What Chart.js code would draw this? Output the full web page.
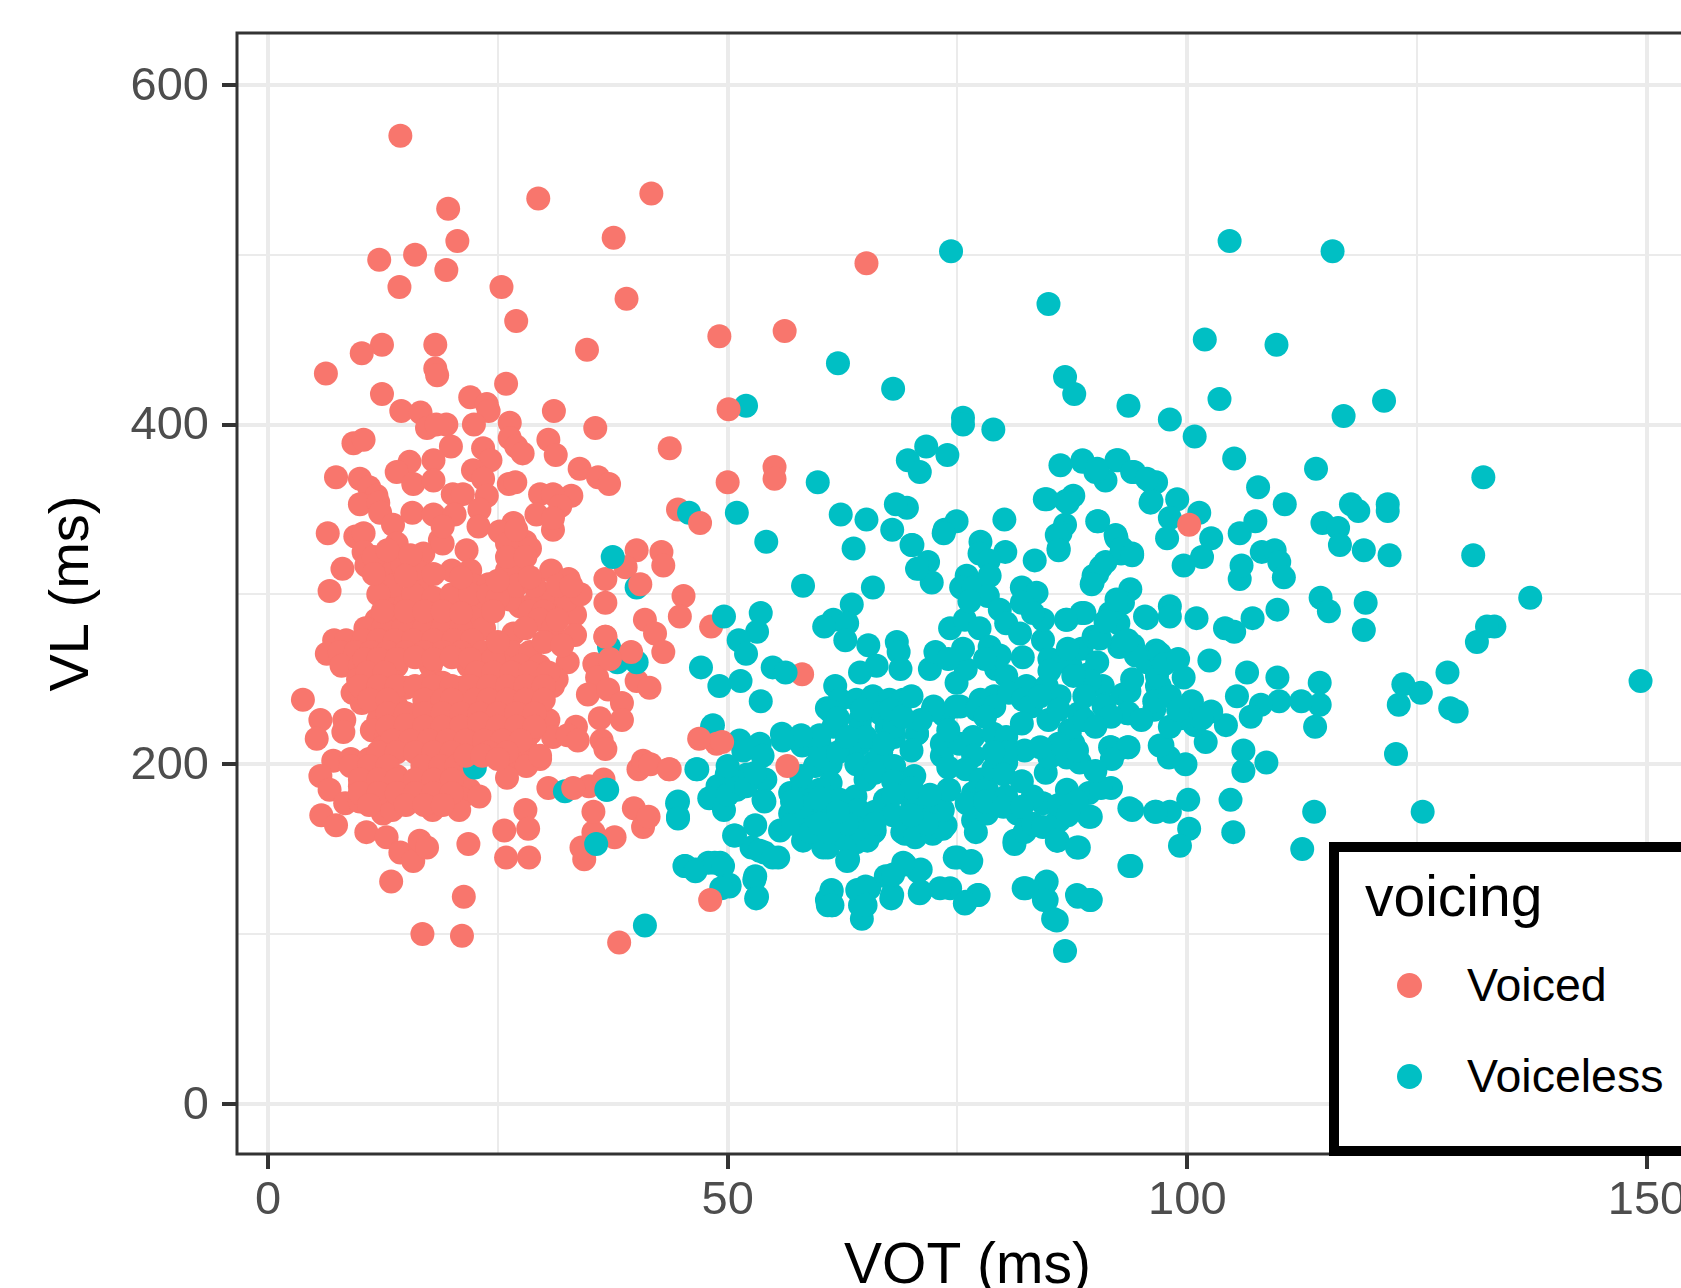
<!DOCTYPE html>
<html>
<head>
<meta charset="utf-8">
<title>VOT and VL by voicing</title>
<script src="https://cdn.jsdelivr.net/npm/chart.js@4"></script>
<style>
html, body { margin: 0; padding: 0; background: #fff; width: 1681px; height: 1288px; overflow: hidden; font-family: "Liberation Sans", sans-serif; }
#wrap { position: relative; width: 1681px; height: 1288px; overflow: hidden; }
#legend { position: absolute; left: 1329px; top: 842px; width: 500px; height: 314px; box-sizing: border-box; border: 10px solid #000; background: #fff; }
#legend .title { position: absolute; left: 26px; top: 12px; font-size: 57px; line-height: 64px; color: #000; }
#legend .item { position: absolute; left: 0; height: 60px; width: 480px; font-size: 46.5px; line-height: 60px; color: #000; }
#legend .dot { position: absolute; left: 58px; top: 18px; width: 25px; height: 25px; border-radius: 50%; }
#legend .label { position: absolute; left: 128px; top: 0; }
</style>
</head>
<body>
<div id="wrap">
<canvas id="voiceChart" width="1710" height="1288"></canvas>
<div id="legend"></div>
</div>
<script>
const legendTitle = 'voicing';
const seriesNames = ['Voiced', 'Voiceless'];
const seriesColors = ['#F8766D', '#00BFC4'];
const xTicks = [0, 50, 100, 150];
const yTicks = [0, 200, 400, 600];

// [VOT, VL]
const voiced = [
[14.4,570],[19.6,527],[29.4,533],[41.7,536],[20.6,508],[37.6,510],[12.1,497],[16,500],[19.4,491],[14.3,481],
[25.4,481],[65.1,495],[39,474],[27,461],[56.2,455],[49.1,452],[12.4,447],[10.2,442],[18.2,447],[18.2,433],
[18.4,429],[34.7,444],[6.3,430],[25.9,424],[12.4,418],[22,416],[23.8,412],[24,408],[22.4,400],[31.1,408],
[14.5,408],[16.6,407],[17.3,398],[19.4,400],[18.3,400],[26.3,401],[26.3,392],[27,387],[27.7,383],[35.6,398],
[30.5,391],[31.3,382],[43.7,386],[9.3,389],[10.4,391],[19.9,387],[23.4,386],[24.2,379],[18,379],[15.4,378],
[14,372],[22.3,373],[33.9,374],[35.9,369],[37.1,365],[7.4,369],[10,368],[11,363],[11.8,358],[15.8,365],
[18,367],[20.1,359],[26.2,365],[26.9,366],[33,358],[29.6,359],[31,359],[23.4,368],[23.8,358],[21.2,359],
[10,353],[12,354],[12.2,348],[13.6,341],[15.7,348],[18,347],[20.3,347],[23,350],[31.8,352],[29.2,347],
[31,338],[31,345],[22.9,340],[6.5,336],[9.5,334],[10.4,336],[18.7,332],[26.7,342],[25.2,337],[28,331],
[28.5,327],[21.6,326],[16.9,324],[10.4,325],[12.6,322],[14,322],[44.6,350],[40.1,326],[42.8,325],[43,317],
[38.9,316],[36.7,309],[36.7,295],[45.2,299],[44.8,287],[36.7,275],[41,285],[42.1,277],[43,266],[48.2,281],
[50,366],[55.1,375],[55.1,368],[30.8,314],[32.7,309],[8.1,315],[6.7,302],[32.5,293],[33.4,288],[33.4,276],
[31,293],[29.2,295],[27.4,293],[26.3,297],[26.7,277],[12.9,303],[16.5,306],[23.4,285],[10.7,317],[13,314],
[14.6,317],[16.5,313],[20,314],[22,314],[27.3,314],[26,314],[13.3,303],[16.9,302],[21,302],
[23.4,302],[29.2,297],[31,300],[32.5,297],[14.4,297],[18.7,296],[21,292],[11.8,285],
[13,295],[15,295],[17.5,295],[23,290],[14,287],[16,287],[18,287],[20,287],[22,287],
[10.6,280],[12.5,280],[14.7,280],[17,280],[19,280],[21,280],[23.5,280],
[7.2,273],[8.5,273],[10.4,273],[12,273],[13.8,273],[15.8,273],[18,273],[20.2,273],[22.2,273],
[6.4,265],[7.8,266],[9.5,266],[11.2,266],[13,266],[15,266],[17,266],[19,266],[21,266],[23.4,266],[26.5,266],[28.5,266],
[8,258],[10,258],[12,258],[14,258],[17.7,258],[21.8,258],[23.5,258],[25.5,258],[27.5,258],[29.5,258],
[9.8,250],[11.5,250],[13.5,250],[17.5,248],[19,248],[22.5,250],[24.5,250],[26.5,250],[28.5,250],[30.5,250],
[11,243],[13,243],[15,245],[17,243],[19,243],[21,245],[23,243],[25,243],[27,243],[29,243],[31,246],
[9.2,242],[10.2,236],[12,234],[14,234],[17,234],[19.5,234],[23,234],[25,234],[27,234],[29,234],
[12,226],[14,226],[16,226],[18,226],[20,226],[22,227],[24,226],[26,226],[28,226],[30.5,226],
[11.3,220],[12.8,216],[16.5,218],[18.5,218],[20.5,218],[24.5,218],[26.5,218],[28.5,218],[31,216],
[12.5,210],[14.5,210],[16.5,210],[18.5,210],[20.5,210],[22.5,212],[24.5,210],[26.5,210],[28,210],
[7.1,202],[9,203],[11,203],[13,203],[17,204],[19,203],[27,203],[29.6,203],[28.1,199],
[5.7,193],[10.5,195],[12.5,195],[14,193],[17,194],[19,195],[21,192],[26,192],
[6.7,185],[10,187],[12,187],[14,187],[16,187],[18,187],[20,187],[21.9,185],
[8.4,177],[10,178],[11.5,180],[13,180],[15,180],[17,180],[19,180],[21,180],[23,181],
[12.5,171],[13.5,173],[17.9,173],[20.8,173],[5.8,170],[7.4,164],[10.7,160],[12.9,157],[14.4,148],[15.8,143],
[16.5,155],[17.3,151],[13.4,131],[21.3,122],[16.8,100],[21.1,99],[38.2,95],[21.8,153],[25.7,161],[28,173],
[28.3,162],[25.9,145],[28.4,145],[34.4,144],[34.1,151],[37.7,157],[35.4,160],[35.4,172],[34.9,187],[30.5,186],
[36.5,191],[39.8,174],[40.8,163],[41.4,169],[40.3,197],[40.8,202],[41.6,200],[43.6,197],[29.6,205],
[32.6,260],[31.4,250],[35.5,259],[35.8,251],[40.1,249],[41.5,245],[34.8,241],[37,244],[38.5,236],[36.1,227],
[38.5,226],[33.5,222],[32.6,217],[36.3,214],[36.7,209],[33.7,214],[3.8,238],[5.7,226],[5.3,215],[8.3,226],
[8.2,219],[58.1,253],
[10.5,262],[12,262],[14,262],[16,263],[18,262],[20,263],[22,262],[24.5,262],
[10.8,254],[12.7,254],[22.7,254],[24.5,254],[26.5,254],[28.5,254],[30.5,254],
[10,246],[12,246],[14,246],[16,246],[18,246],[20,246],[22,246],[24,246],[26,246],[28,246],[30,246],
[11,238],[13,238],[17,238],[19,238],[20,238],[22.5,238],[24,238],[26,238],[28,238],[30,238],
[13,230],[15,230],[17,230],[19,230],[21,230],[23,230],[25,230],[27,230],[29,230],
[13,222],[15,223],[17,222],[19,222],[21,222],[23,224],[25,222],[27,222],[29,222],
[13.5,214],[15.5,214],[17.5,214],[19.5,214],[21.5,214],[23.5,214],[25.5,214],[27.5,214],
[12,207],[14,207],[16,207],[18,207],[20,207],[24,207],[26,207],
[9,199],[11,199],[13,199],[16.8,199],[18.8,199],[20.5,199],
[10,191],[12,191],[14,191],[16,191],[18,191],[20,191],
[10,183],[12,183],[14,183],[16,183],[18,183],[20,183],[11,176],[15,176],[17,176],[19,176],
[13.5,305],[22.5,305],[24,306],[27,305],[29,305],
[12,300],[15.8,300],[18,298],[20,300],[22,300],[24,300],[25,298],
[12.5,290],[15,290],[17,290],[19,290],[21,289],[24.5,290],[28.5,290],[30,290],
[14,330],[19,330],[26,330],
[19,340],[27,338],
[11.5,322],[13,326],[15.5,323],[26,322],[28,322],
[11.5,312],[15,311],[18,312],[21,310],[25,308],[28.5,310],[31.5,305],
[29.5,285],[31,280],[30,272],[32,270],[31.5,285],[34,300],[33,305],[28,280],[25,272]
];
// voiced points that sit on top of the voiceless ones
const voicedTop = [
[47,342],[40.5,306],[39.5,266],[37.2,262],[48.8,212],[46.9,215],[49.4,213],[43.7,197],[48.1,120],[56.5,199],
[100.2,341],[50.1,409],[33.2,186],[21.5,205],[23.3,205],[25,203],[36.7,275]
];
const voiceless = [
[104.6,508],[115.8,502],[74.3,502],[84.9,471],[101.9,450],[109.7,447],[62,436],[68,421],[86.7,428],[87.7,418],
[103.5,415],[121.4,414],[93.6,411],[117,405],[75.6,404],[75.6,400],[98.1,403],[78.9,397],[100.8,393],[52,411],
[105.1,380],[73.9,382],[71.6,387],[69.6,379],[70.9,372],[114,374],[132.2,369],[59.8,366],[107.7,363],[110.6,353],
[121.8,353],[121.8,349],[117.8,353],[118.6,349],[114.7,342],[116.4,339],[116.6,329],[119.2,326],[122,323],[131.1,323],
[137.3,298],[114.5,298],[115.4,290],[119.4,295],[119.2,279],[133.4,281],[132.6,281],[131.5,272],[128.3,254],[149.3,249],
[123.5,247],[125.4,242],[123,235],[128.6,233],[129.3,231],[122.7,206],[125.6,172],[113.8,172],[112.5,150],[114.4,248],
[114.4,235],[112.4,237],[109.8,251],[110,237],[113.9,222],[106.5,254],[105.4,240],[108,235],[106.9,228],[104.2,223],
[106.1,208],[106.1,196],[108.6,201],[104.7,179],[105,160],[100.1,179],[100.2,162],[99.2,152],[98.1,172],[96.5,172],
[94,173],[93.7,140],[89.5,120],[88,123],[86.7,90],[85.4,109],[84.7,120],[84.7,131],[82.4,127],[77.2,123],
[75.9,119],[74.2,127],[76.5,143],[75,145],[71,125],[71,138],[69.3,141],[67.2,134],[67.9,123],[65.4,127],
[64.4,126],[64.4,117],[64.6,109],[61.3,126],[60.9,117],[61.4,117],[53.2,122],[52.9,132],[50.2,128],[49.2,142],
[47.9,142],[46.5,138],[45.3,140],[41,105],[35.7,153],[36.9,185],[32.3,184],[44.6,178],[44.6,169],[46.7,197],
[50.8,158],[52.6,151],[54,148],[55.5,145],[53,164],[60.9,151],[63.1,144],[62.9,155],[64.8,159],[66,161],
[69.3,159],[70.7,159],[72.4,161],[73.7,164],[74.1,185],[67.4,179],[53.9,179],[54.1,191],[81.2,155],[83.2,164],
[85.9,155],[86.1,167],[88.2,151],[89.5,169],[91.7,186],[92.3,208],[91.7,210],[93.6,210],[97.3,211],[98,204],
[99.8,200],[102,213],[100.8,223],[102.6,231],[102.4,261],[99.6,251],[101,286],[98.1,293],[98.1,287],[95.6,286],
[93.8,303],[90.2,312],[91.1,319],[89.7,307],[101.6,322],[99.6,317],[97.8,333],[102.6,333],[101.3,348],[98.9,356],
[96.6,366],[96.1,366],[96.1,355],[98.1,345],[105.7,309],[105.9,317],[105.7,336],[107.4,343],[108.1,325],[109.5,326],
[110,319],[110.5,310],[109.8,291],[107.1,286],[104.1,280],[105.1,278],[92.3,379],[94.2,372],[91.1,367],[90,372],
[88.6,378],[86.2,376],[84.7,356],[87.6,358],[86.8,355],[86.7,341],[86.2,336],[86,327],[83.4,320],[80.1,344],
[80.2,325],[77.5,331],[90.3,343],[92.3,333],[92.8,324],[94,324],[73.6,338],[74.9,343],[69.5,351],[68.3,353],
[67.9,338],[70.1,329],[71.8,319],[71,315],[72.2,307],[62.3,347],[65.1,344],[63.7,327],[65.8,304],[58.2,305],
[54.2,331],[51,348],[45.8,348],[37.5,322],[40.1,304],[37.1,269],[38,260],[40.1,260],[22.5,198],[36.8,185],
[49.6,287],[53.6,289],[53.2,278],[51.2,273],[52,265],[47.1,257],[49.1,246],[51.4,249],[54.9,257],[56.3,254],
[53.6,237],[48.4,223],[61.5,285],[60.5,281],[63.5,294],[63,283],[62.8,273],[65.3,270],[68.4,272],[68.6,266],
[68.8,256],[66.2,258],[64.4,254],[61.7,246],[60.8,233],[62.2,238],[64,238],[65.8,240],[67.6,238],[69.1,238],
[66.6,230],[64.4,226],[61.5,222],[67.3,222],[70.6,218],[72,256],[72.6,266],[74.2,280],[75.8,285],[74.9,248],
[75.9,256],[75.6,268],[76,311],[75.4,304],[76.7,304],[77.4,324],[78.4,320],[78.5,311],[78.3,299],[76.3,296],
[79.6,291],[80.3,283],[77.4,280],[78.5,269],[81.8,277],[84.3,273],[84.3,285],[82,304],[83.6,301],[82,295],
[83.2,289],[86.9,285],[88.5,289],[79.2,256],[80.3,252],[82.1,263],[79.6,264],[82.5,246],[85,262],[84.7,246],
[87.3,258],[88.5,268],[89.8,275],[92.6,269],[94.1,270],[92.5,283],[93,295],[91.6,289],[95.4,287],[89.2,253],
[90.8,246],[93,241],[91,235],[93.6,230],[95.6,260],[96.6,267],[97,246],[79,240],[77.5,238],[75.3,234],
[72.4,234],[73.5,229],[80.6,242],[84.9,226],[87.2,220],[88.7,226],[82.1,238],[86.1,240],[88.6,379],[90.2,374],
[92.5,379],[94,372],[95.6,368],[96,354],[84.5,356],[87,354],[73.5,336],[85.8,335],[86,326],[90.2,343],
[92.2,335],[92.9,327],[94,323],[90.6,316],[89.8,311],[89.6,306],[70.6,315],[70,329],[48.3,222],[51.3,214],
[53.5,212],[55.9,218],[58.1,211],[60,212],[51.7,208],[53.8,205],[46.6,197],[49.9,194],[52.1,194],[54,191],
[48.9,187],[48,180],[49.6,173],[51,185],[54,178],[44.5,177],[44.6,168],[50.7,158],[53.5,149],[54.9,145],
[45.4,140],[46.5,137],[48.6,142],[49.5,140],[50.2,129],[49.3,127],[53,134],[53.1,121],[56.8,183],[58.2,186],
[59.5,199],[61.2,200],[61.2,189],[59,179],[56.8,171],[55.7,161],[58.2,155],[57.1,165],[60.4,151],[59,167],
[60.6,173],[62.2,179],[63.9,181],[65,191],[64.2,173],[65.9,160],[64,154],[63,143],[65.2,155],[61.9,167],
[64.2,162],[67.1,179],[69,160],[70.4,157],[72.3,159],[73.4,162],[73.4,173],[71.6,175],[70.1,177],[71.7,165],
[65.9,201],[68.1,199],[70.3,193],[70.6,218],[73.3,205],[73.3,212],[74,185],[68.1,216],[66.7,207],[68.1,222],
[64.4,221],[62.9,212],[64.4,212],[72.3,232],[75.2,212],[76.7,216],[78.9,218],[80.3,216],[76.7,205],[75.9,197],
[77.5,191],[76.7,183],[78.2,185],[76.7,167],[78.2,171],[76,177],[78.9,197],[80.3,201],[80.3,181],[81.5,171],
[81.2,153],[82.3,160],[83.2,165],[84.3,163],[85.8,166],[85.8,155],[88,151],[84.3,177],[83.2,181],[86.9,185],
[89.3,183],[84.6,195],[82.3,208],[85,204],[86.9,204],[88.3,201],[87.6,212],[88.7,226],[87.2,218],[90.6,186],
[89.3,169],[93.7,174],[93.9,140],[96.6,172],[91.6,210],[93.5,210],[91.8,203],[97,211],[80.3,207],[78.9,207],
[82.2,127],[84.6,130],[84.4,120],[85.8,108],[88.1,122],[89.4,120],[77.3,123],[75.8,118],[73.1,127],[76.4,142],
[74.7,145],[70.9,124],[70.7,137],[69.1,142],[68,135],[67.8,121],[65,128],[64.1,126],[65,117],[61.3,125],
[60.8,120],[61.3,117],[61.2,231],[64.6,232],[67.7,232],[74.8,234],[77.1,232],[79,234],[83,234],[90.9,234],
[96.4,232],[96.7,246],[96.7,252],[93.7,243],[96.4,237],[93.5,230],[91.7,228],[98.1,240],[100.5,237],[101.6,227],
[99.3,227],[98.1,222],[94.4,264],[97,265],[97.5,259],[92.9,271],[90.5,274],[88.8,289],[86.8,285],[92.3,297],
[91.1,284],[93.5,273],[88.2,230],[88.8,226],[88,208],[90.2,260],[89.4,249],[87.6,252],[88.8,240],
[60,205],[62,207],[64,200],[58,193],[60,185],[66,195],[68,190],[70,186],[68,182],[66,172],[68,170],
[63,165],[66,165],[70,170],[72,182],[74,198],[62,227],[65,216],[67,212],[70,208],[71,226],[69,228],
[63,216],[60,217],[58,217],[56,214],[74,220],[78,228],[82,224],[86,212],[84,210],
[80,194],[82,190],[78,178],[80,175],[82,175],[77,160],[90,196],[88,178],[86,176],[87,170],
[90,222],[95,226],[99,232],[74,262],[78,262],[85,255],
[87,268],[84,240],[86,232],[94,250],[99,262],
[70,240],[50,182],[51,190],[52,187],[53,195],[50,199],
[58,175],[60,180],[57,178],[59,160],[61,160],[60,165],[62,172]
];

function toPoints(rows) {
    return rows.map(r => ({ x: r[0], y: r[1] }));
}

const panelFrame = {
    id: 'panelFrame',
    afterDatasetsDraw(chart) {
        const a = chart.chartArea;
        const c = chart.ctx;
        c.save();
        c.strokeStyle = '#333333';
        c.lineWidth = 3;
        c.strokeRect(a.left, a.top, a.right - a.left, a.bottom - a.top);
        c.restore();
    }
};

function axisGrid(labelled) {
    return {
        color: '#ebebeb',
        lineWidth: ctx => labelled.includes(ctx.tick.value) ? 4 : 2,
        drawTicks: true,
        tickLength: 15,
        tickWidth: ctx => labelled.includes(ctx.tick.value) ? 4 : 0,
        tickColor: ctx => labelled.includes(ctx.tick.value) ? '#333333' : 'rgba(0,0,0,0)'
    };
}

// keep the panel where it is, whatever room the tick labels ask for
function fixSize(scale, size) {
    if (scale.isHorizontal()) scale.height = size; else scale.width = size;
    scale.paddingTop = 0;
    scale.paddingBottom = 0;
    scale.paddingLeft = 0;
    scale.paddingRight = 0;
}

const ctx = document.getElementById('voiceChart').getContext('2d');
new Chart(ctx, {
    type: 'scatter',
    data: {
        // chart.js paints the first dataset last
        datasets: [
            { label: seriesNames[0], data: toPoints(voicedTop), backgroundColor: seriesColors[0], pointRadius: 12, borderWidth: 0 },
            { label: seriesNames[1], data: toPoints(voiceless), backgroundColor: seriesColors[1], pointRadius: 12, borderWidth: 0 },
            { label: seriesNames[0], data: toPoints(voiced), backgroundColor: seriesColors[0], pointRadius: 12, borderWidth: 0 }
        ]
    },
    options: {
        responsive: false,
        animation: false,
        layout: { padding: { top: 33, left: 0, right: 7, bottom: 0 } },
        plugins: { legend: { display: false }, tooltip: { enabled: false } },
        scales: {
            x: {
                type: 'linear',
                min: -3.37,
                max: 155.55,
                afterFit(scale) { fixSize(scale, 134); },
                grid: axisGrid(xTicks),
                border: { display: false },
                ticks: {
                    stepSize: 25,
                    includeBounds: false,
                    autoSkip: false,
                    maxRotation: 0,
                    padding: 4,
                    color: '#4d4d4d',
                    font: { family: '"Liberation Sans"', size: 47 },
                    callback: v => xTicks.includes(v) ? String(v) : ''
                },
                title: {
                    display: true,
                    text: 'VOT (ms)',
                    color: '#000',
                    font: { family: '"Liberation Sans"', size: 57, lineHeight: 0.8 },
                    padding: { top: 0, bottom: -2 }
                }
            },
            y: {
                type: 'linear',
                min: -29.5,
                max: 630.5,
                afterFit(scale) { fixSize(scale, 237); },
                grid: axisGrid(yTicks),
                border: { display: false },
                ticks: {
                    stepSize: 100,
                    includeBounds: false,
                    autoSkip: false,
                    padding: 13,
                    labelOffset: 2,
                    color: '#4d4d4d',
                    font: { family: '"Liberation Sans"', size: 47 },
                    callback: v => yTicks.includes(v) ? String(v) : ''
                },
                title: {
                    display: true,
                    text: 'VL (ms)',
                    color: '#000',
                    font: { family: '"Liberation Sans"', size: 56, lineHeight: 1 },
                    padding: { top: 45, bottom: 0 }
                }
            }
        }
    },
    plugins: [panelFrame]
});

const legend = document.getElementById('legend');
const titleEl = document.createElement('div');
titleEl.className = 'title';
titleEl.textContent = legendTitle;
legend.appendChild(titleEl);
seriesNames.forEach((name, i) => {
    const item = document.createElement('div');
    item.className = 'item';
    item.style.top = (103 + i * 91) + 'px';
    const dot = document.createElement('span');
    dot.className = 'dot';
    dot.style.background = seriesColors[i];
    const label = document.createElement('span');
    label.className = 'label';
    label.textContent = name;
    item.appendChild(dot);
    item.appendChild(label);
    legend.appendChild(item);
});
</script>
</body>
</html>
